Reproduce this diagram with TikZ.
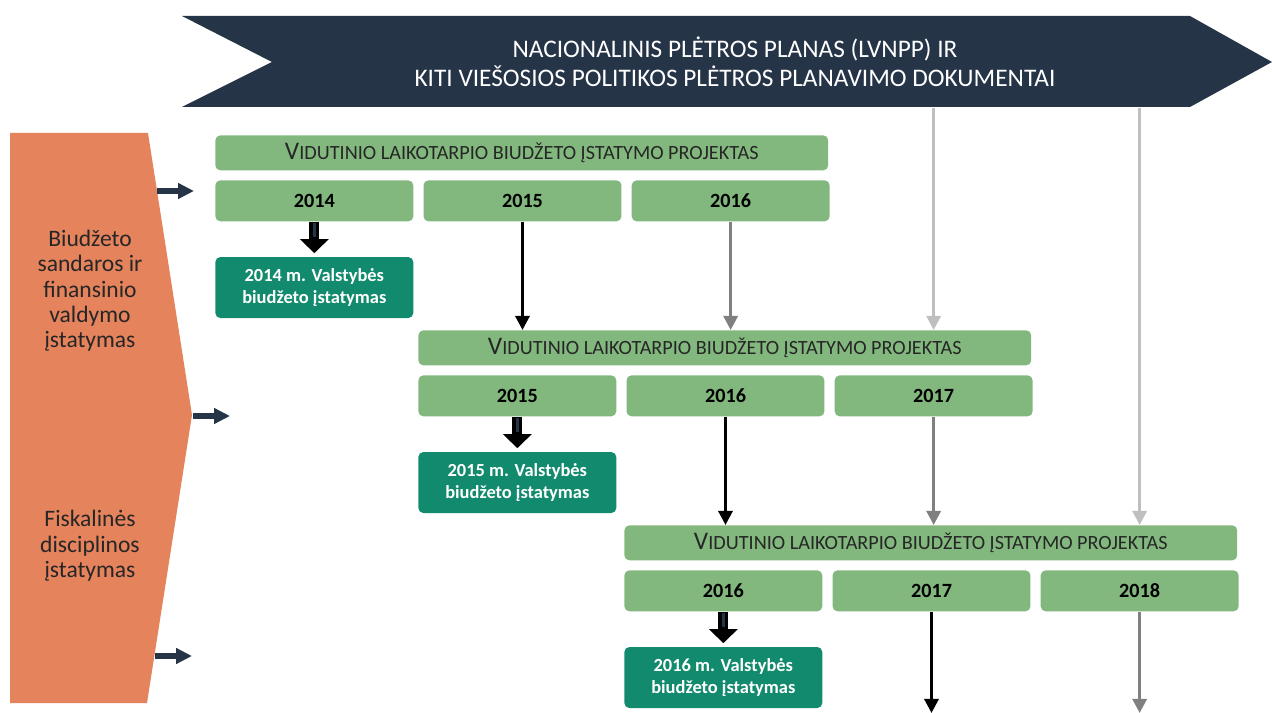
\documentclass[tikz,border=0pt]{standalone}
\usepackage{fontspec}
\setmainfont{Carlito}
\usetikzlibrary{positioning,chains,arrows.meta}

\definecolor{navy}{RGB}{37,52,71}
\definecolor{orangebox}{RGB}{229,131,92}
\definecolor{lightgreen}{RGB}{130,184,126}
\definecolor{darkgreen}{RGB}{18,138,110}
\definecolor{midgray}{RGB}{128,128,128}
\definecolor{lightgray}{RGB}{191,191,191}
\definecolor{textgray}{RGB}{38,38,38}

\newcommand{\projtitle}{{\fontsize{14.4}{16}\selectfont V}{\fontsize{11.5}{13}\selectfont IDUTINIO LAIKOTARPIO BIUDŽETO ĮSTATYMO PROJEKTAS}}

\begin{document}
\begin{tikzpicture}[x=0.02cm,y=-0.02cm]
                \tikzstyle{projbox}=[fill=lightgreen,rounded corners=0.1cm,minimum width=12.26cm,
                minimum height=0.7cm,inner sep=0pt,anchor=north west,text=textgray]
                \tikzstyle{yearbox}=[on chain,fill=lightgreen,rounded corners=0.1cm,minimum width=3.96cm,
                minimum height=0.82cm,inner sep=0pt,font=\bfseries\fontsize{11.5}{13}\selectfont]
                \tikzstyle{lawbox}=[fill=darkgreen,rounded corners=0.1cm,minimum width=3.96cm,
                minimum height=1.22cm,inner sep=0pt,text=white,align=center,
                font=\bfseries\fontsize{10.5}{12}\selectfont]
                \tikzstyle{lawtext}=[text=textgray,align=center,font=\fontsize{13.4}{14.4}\selectfont]
                \tikzstyle{flow}=[line width=1.7pt,-{Triangle[width=8pt,length=8pt]}]
                \tikzstyle{bigarrow}=[line width=5.7pt,-{Triangle[width=16pt,length=8pt]},shorten >=2pt]
                \tikzstyle{inarrow}=[navy,line width=3.4pt,-{Triangle[width=8.5pt,length=9pt]}]
                
                \useasboundingbox (0,0) rectangle (1272,713);
                
                %% Draw planning banner
                \fill[navy] (182,16) -- (1190,16) -- (1272,62) -- (1190,107) -- (182,107) -- (272,62) -- cycle;
                \node [text=white,align=center,minimum height=1.82cm,inner sep=0pt,
                       font=\fontsize{14.4}{16.5}\selectfont] (banner) at (735,62)
                      {NACIONALINIS PLĖTROS PLANAS (LVNPP) IR\\KITI VIEŠOSIOS POLITIKOS PLĖTROS PLANAVIMO DOKUMENTAI};
                
                %% Draw laws on the left
                \fill[orangebox] (10,133) -- (148,133) -- (192,415) -- (147,703) -- (10,703) -- cycle;
                \node [lawtext] (law1) at (90,291) {Biudžeto\\sandaros ir\\finansinio\\valdymo\\įstatymas};
                \node [lawtext] (law2) at (90,546) {Fiskalinės\\disciplinos\\įstatymas};
                
                \coordinate (in1s) at (157,191);
                \coordinate (in1e) at (194,191);
                \coordinate (in2s) at (193,416);
                \coordinate (in2e) at (230,416);
                \coordinate (in3s) at (155,656);
                \coordinate (in3e) at (192,656);
                \draw[inarrow] (in1s) -- (in1e);
                \draw[inarrow] (in2s) -- (in2e);
                \draw[inarrow] (in3s) -- (in3e);
                
                %% Draw budget projects
                \foreach \g/\x/\y/\ya/\yb/\yc in {1/215/135/2014/2015/2016,
                                                 2/418/330/2015/2016/2017,
                                                 3/624/525/2016/2017/2018}
                {
                \begin{scope}[shift={(\x,\y)},start chain=going right,node distance=0.19cm]
                    \node [projbox] (h\g) at (0,0) {\projtitle};
                    \node [yearbox,anchor=north west] (y\g-1) at (0,45) {\ya};
                    \node [yearbox] (y\g-2) {\yb};
                    \node [yearbox] (y\g-3) {\yc};
                    \node [lawbox,below=0.7cm of y\g-1] (l\g) {\ya{} m. Valstybės\\biudžeto įstatymas};
                    
                    % Arrow to the adopted law
                    \draw[bigarrow] (y\g-1.south) -- (l\g.north);
                    \draw[navy,line width=2pt] ([yshift=-1pt]y\g-1.south) -- ++(0,14);
                \end{scope}
                }
                
                %% Link years with next projects
                \coordinate (bottom) at (0,713);
                \draw[flow] (y1-2.south) -- (y1-2 |- h2.north);
                \draw[flow,midgray] (y1-3.south) -- (y1-3 |- h2.north);
                \draw[flow,lightgray] (banner.south -| y2-3) -- (y2-3 |- h2.north);
                \draw[flow,lightgray] (banner.south -| y3-3) -- (y3-3 |- h3.north);
                \draw[flow] (y2-2.south) -- (y2-2 |- h3.north);
                \draw[flow,midgray] (y2-3.south) -- (y2-3 |- h3.north);
                \draw[flow] (y3-2.south) -- (y3-2 |- bottom);
                \draw[flow,midgray] (y3-3.south) -- (y3-3 |- bottom);
\end{tikzpicture}
\end{document}
